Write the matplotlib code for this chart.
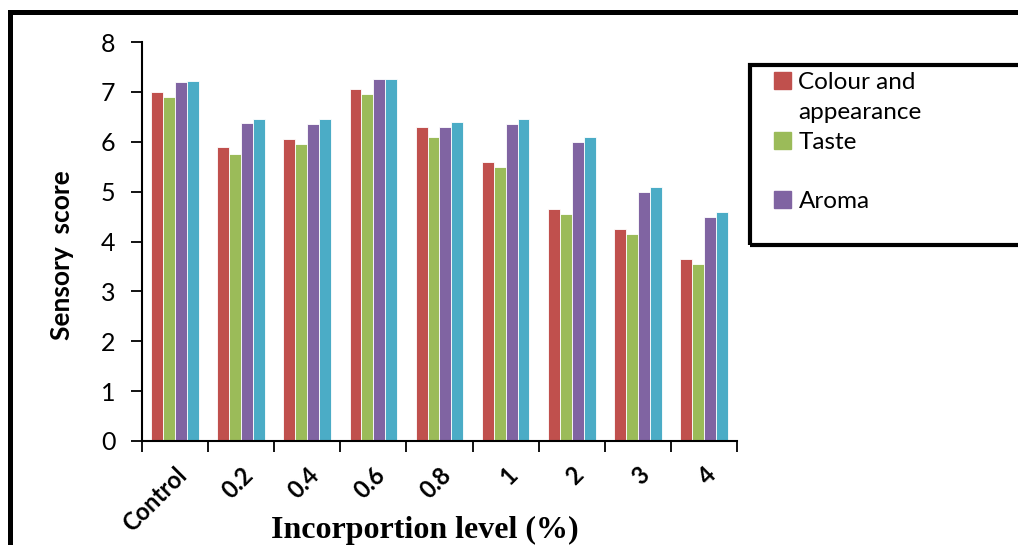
import numpy as np
import matplotlib
matplotlib.use('Agg')
import matplotlib.pyplot as plt
from matplotlib.patches import Rectangle, Patch
from matplotlib.lines import Line2D

# data
levels = ['Control', '0.2', '0.4', '0.6', '0.8', '1', '2', '3', '4']
colour_appearance = [7.0, 5.9, 6.05, 7.05, 6.3, 5.6, 4.65, 4.25, 3.65]
taste = [6.9, 5.75, 5.95, 6.95, 6.1, 5.5, 4.55, 4.15, 3.55]
aroma = [7.2, 6.37, 6.35, 7.25, 6.3, 6.35, 6.0, 5.0, 4.5]
overall = [7.22, 6.46, 6.45, 7.25, 6.4, 6.45, 6.1, 5.1, 4.6]

series = [('Colour and appearance', colour_appearance, '#C0504D'),
          ('Taste', taste, '#9BBB59'),
          ('Aroma', aroma, '#8064A2'),
          ('Overall acceptability', overall, '#4BACC6')]

plt.rcParams['font.family'] = ['Lato', 'DejaVu Sans']

fig = plt.figure(figsize=(10.18, 5.45), dpi=100)
ax = fig.add_axes([142/1018, 1 - 441/545, (737 - 142)/1018, (441 - 42)/545])

x = np.arange(len(levels))
w = 0.18
for k, (name, vals, col) in enumerate(series):
    ax.bar(x + (k - 1.5) * w, vals, w, color=col, edgecolor='white', linewidth=0.6, label=name)

ax.set_xlim(-0.5, len(levels) - 0.5)
ax.set_ylim(0, 8)
ax.set_yticks(range(0, 9))
ax.tick_params(axis='y', labelsize=18, length=8, width=1.3, pad=11)

# ticks between categories, labels at the centres
ax.set_xticks(np.arange(-0.5, len(levels)), [''] * (len(levels) + 1))
ax.set_xticks(x, levels, minor=True)
ax.tick_params(axis='x', which='major', length=8, width=1.3)
ax.tick_params(axis='x', which='minor', length=0, pad=16, labelsize=17)
for lab in ax.get_xticklabels(minor=True):
    lab.set_rotation(45)
    lab.set_ha('right')
    lab.set_rotation_mode('anchor')
    lab.set_fontweight('bold')

for s in ['top', 'right']:
    ax.spines[s].set_visible(False)
for s in ['left', 'bottom']:
    ax.spines[s].set_linewidth(1.5)

ax.set_ylabel('Sensory  score', fontsize=19, fontweight='bold')
ax.yaxis.set_label_coords(-0.114, 0.466)
ax.set_xlabel('Incorportion level (%)', fontsize=23, fontweight='bold',
              family='Liberation Serif')
ax.xaxis.set_label_coords(0.476, -0.188)

# outer frame (cut off at the right and bottom)
fig.add_artist(Line2D([10/1018, 1.01], [1 - 12/545, 1 - 12/545], color='black', lw=3.6))
fig.add_artist(Line2D([10/1018, 10/1018], [1 - 12/545, -0.01], color='black', lw=3.6))

# legend box, also cut off at the right
fig.add_artist(Rectangle((750/1018, 1 - 245/545), 300/1018, 180/545,
                         transform=fig.transFigure, fill=False, edgecolor='black', lw=3))
blank = Patch(facecolor='none', edgecolor='none')
handles = [Patch(color=series[0][2]), blank, Patch(color=series[1][2]), blank, Patch(color=series[2][2])]
labels = ['Colour and', 'appearance', 'Taste', '', 'Aroma']
fig.legend(handles, labels, loc='upper left', bbox_to_anchor=(762/1018, 1 - 60/545),
           frameon=False, fontsize=17.5, handlelength=0.7, handleheight=0.7,
           handletextpad=0.3, labelspacing=0.36, borderpad=0)

fig.savefig('out.png', dpi=100)
